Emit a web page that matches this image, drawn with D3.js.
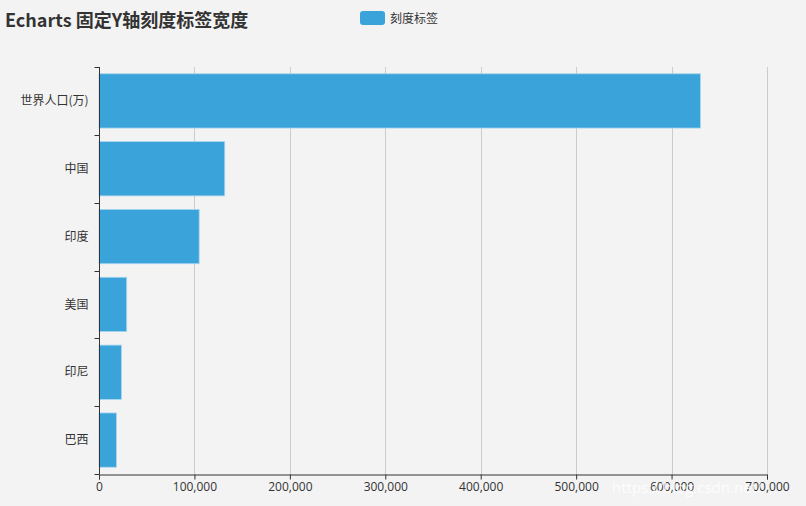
<!DOCTYPE html>
<html><head><meta charset="utf-8">
<script src="https://cdn.jsdelivr.net/npm/d3@7/dist/d3.min.js"></script>
<style>
html,body{margin:0;padding:0;background:#f3f3f3;}
svg{display:block;font-family:"Noto Sans CJK SC","Open Sans",sans-serif;}
</style></head>
<body>
<svg id="chart" width="806" height="506"></svg>
<script>
const categories = ["巴西", "印尼", "美国", "印度", "中国", "世界人口(万)"];
const values = [18203, 23489, 29034, 104970, 131744, 630230];
const xTicks = [0, 100000, 200000, 300000, 400000, 500000, 600000, 700000];
const titleText = "Echarts 固定Y轴刻度标签宽度";
const legendText = "刻度标签";

const W = 806, H = 506;
const m = {left: 99, right: 39, top: 67, bottom: 32};
const svg = d3.select("#chart");
svg.append("rect").attr("width", W).attr("height", H).attr("fill", "#f3f3f3");

const x = d3.scaleLinear().domain([0, 700000]).range([m.left, W - m.right]);
const y = d3.scaleBand().domain(categories.slice().reverse()).range([m.top, H - m.bottom]).paddingInner(0.2).paddingOuter(0.1);
const yTicksScale = d3.scaleBand().domain(categories.slice().reverse()).range([m.top, H - m.bottom]);

// grid
svg.append("g").selectAll("line").data(xTicks.slice(1)).join("line")
  .attr("x1", d => Math.round(x(d)) + 0.5).attr("x2", d => Math.round(x(d)) + 0.5)
  .attr("y1", m.top).attr("y2", H - m.bottom)
  .attr("stroke", "#cccccc").attr("stroke-width", 1);

// bars
svg.append("g").selectAll("rect").data(categories).join("rect")
  .attr("x", x(0))
  .attr("y", d => y(d))
  .attr("width", (d, i) => x(values[i]) - x(0))
  .attr("height", y.bandwidth())
  .attr("fill", "#3aa3da")
  .attr("stroke", "#a9d5ef").attr("stroke-width", 0.8);

// x axis
const xAxis = d3.axisBottom(x).tickValues(xTicks).tickSize(5).tickPadding(3)
  .tickFormat(d3.format(","));
const gx = svg.append("g").attr("transform", `translate(0,${H - m.bottom + 0.5})`).call(xAxis);
gx.select(".domain").attr("stroke", "#333");
gx.selectAll(".tick line").attr("stroke", "#333");
gx.selectAll("text").attr("fill", "#333").attr("font-size", 12).attr("font-family", "'Open Sans','Noto Sans',sans-serif");

// y axis
const gy = svg.append("g").attr("transform", `translate(${m.left + 0.5},0)`);
gy.append("line").attr("x1", 0).attr("x2", 0).attr("y1", m.top).attr("y2", H - m.bottom).attr("stroke", "#333");
const bounds = categories.slice().reverse().map(c => yTicksScale(c)).concat([H - m.bottom]);
gy.selectAll("line.t").data(bounds).join("line").attr("class", "t")
  .attr("x1", -5).attr("x2", 0).attr("y1", d => Math.round(d) + 0.5).attr("y2", d => Math.round(d) + 0.5)
  .attr("stroke", "#333");
gy.selectAll("text").data(categories).join("text")
  .attr("x", -11).attr("y", d => yTicksScale(d) + yTicksScale.bandwidth() / 2)
  .attr("dy", "0.35em").attr("text-anchor", "end")
  .attr("fill", "#333").attr("font-size", 12).text(d => d);

// title
svg.append("text").attr("x", 5).attr("y", 27).attr("font-size", 18).attr("font-weight", "bold")
  .attr("fill", "#333").text(titleText);

// legend
svg.append("rect").attr("x", 360).attr("y", 11).attr("width", 25).attr("height", 14).attr("rx", 3)
  .attr("fill", "#3aa3da");
svg.append("text").attr("x", 390).attr("y", 22.5).attr("font-size", 12).attr("fill", "#333").text(legendText);

// watermark
svg.append("text").attr("x", 612).attr("y", 493).attr("font-size", 15).attr("fill", "#ffffff")
  .attr("fill-opacity", 0.85).attr("font-family", "'Open Sans',sans-serif").text("https://blog.csdn.net/");
</script>
</body></html>
